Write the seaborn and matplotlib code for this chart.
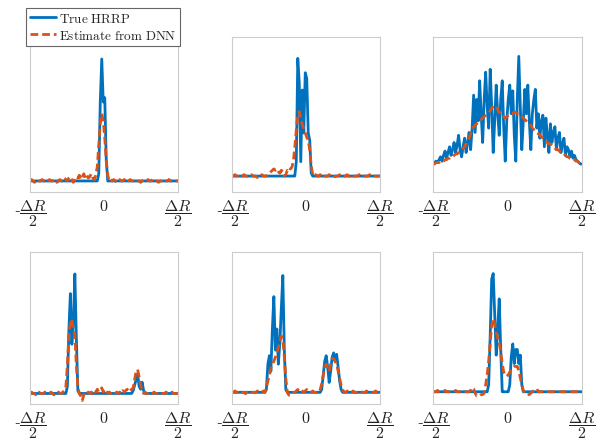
import numpy as np
import pandas as pd
import matplotlib
matplotlib.use("Agg")
import matplotlib.pyplot as plt
import seaborn as sns

# Range profiles on 100 range bins (normalised amplitude), six targets
true_1 = [0, 0, 0, 0, 0, 0, 0, 0, 0, 0,
          0, 0, 0, 0, 0, 0, 0, 0, 0, 0,
          0, 0, 0, 0, 0, 0, 0, 0, 0, 0,
          0, 0, 0, 0, 0, 0, 0, 0, 0, 0,
          0, 0, 0, 0, 0, 0, 0.05, 0.55, 0.85, 0.55,
          0.58, 0.15, 0, 0, 0, 0, 0, 0, 0, 0,
          0, 0, 0, 0, 0, 0, 0, 0, 0, 0,
          0, 0, 0, 0, 0, 0, 0, 0, 0, 0,
          0, 0, 0, 0, 0, 0, 0, 0, 0, 0,
          0, 0, 0, 0, 0, 0, 0, 0, 0, 0]
est_1 = [0.00, 0.01, 0.00, -0.01, 0.00, 0.01, 0.00, 0.00, 0.01, 0.00,
         0.00, -0.01, 0.00, 0.01, 0.00, 0.00, 0.01, 0.00, -0.01, 0.00,
         0.01, 0.00, 0.00, 0.02, 0.01, 0.00, 0.02, 0.03, 0.01, -0.01,
         0.01, 0.03, 0.02, 0.04, 0.01, 0.03, 0.05, 0.02, 0.04, 0.02,
         0.03, 0.05, 0.02, 0.01, 0.04, 0.10, 0.25, 0.40, 0.47, 0.42,
         0.30, 0.14, 0.04, 0.00, 0.01, 0.00, 0.01, 0.00, -0.01, 0.00,
         0.01, 0.00, 0.00, 0.01, 0.00, -0.01, 0.00, 0.01, 0.00, 0.00,
         0.00, 0.01, 0.00, 0.00, -0.01, 0.00, 0.01, 0.00, 0.00, 0.01,
         0.00, 0.00, 0.01, 0.00, 0.00, 0.00, -0.01, 0.00, 0.00, 0.01,
         0.00, 0.00, 0.00, 0.01, 0.00, 0.00, 0.00, 0.00, 0.00, 0.00]

true_2 = [0, 0, 0, 0, 0, 0, 0, 0, 0, 0,
          0, 0, 0, 0, 0, 0, 0, 0, 0, 0,
          0, 0, 0, 0, 0, 0, 0, 0, 0, 0,
          0, 0, 0, 0, 0, 0, 0, 0, 0, 0,
          0, 0, 0, 0.10, 0.82, 0.65, 0.10, 0.60, 0.30, 0.72,
          0.68, 0.30, 0.25, 0.02, 0, 0, 0, 0, 0, 0,
          0, 0, 0, 0, 0, 0, 0, 0, 0, 0,
          0, 0, 0, 0, 0, 0, 0, 0, 0, 0,
          0, 0, 0, 0, 0, 0, 0, 0, 0, 0,
          0, 0, 0, 0, 0, 0, 0, 0, 0, 0]
est_2 = [0.00, 0.00, 0.01, 0.00, 0.00, -0.01, 0.00, 0.00, 0.01, 0.00,
         0.00, 0.00, 0.00, 0.01, 0.00, 0.00, 0.00, -0.01, 0.00, 0.00,
         0.01, 0.00, 0.00, 0.00, 0.01, 0.02, 0.03, 0.04, 0.05, 0.04,
         0.05, 0.03, 0.02, 0.04, 0.03, 0.00, 0.01, 0.04, 0.03, 0.05,
         0.06, 0.10, 0.20, 0.32, 0.42, 0.45, 0.40, 0.36, 0.33, 0.30,
         0.27, 0.25, 0.18, 0.07, 0.01, 0.00, 0.01, 0.00, 0.00, 0.01,
         0.00, 0.01, 0.00, 0.00, 0.00, 0.01, 0.00, 0.00, -0.01, 0.00,
         0.00, 0.00, 0.01, 0.00, 0.00, 0.00, 0.00, 0.01, 0.00, 0.00,
         0.01, 0.00, 0.00, 0.00, 0.00, 0.01, 0.00, 0.00, 0.00, 0.00,
         0.00, 0.00, 0.01, 0.00, 0.00, 0.00, 0.00, 0.00, 0.00, 0.00]

true_3 = [0.00, 0.01, 0.02, 0.01, 0.03, 0.05, 0.02, 0.06, 0.09, 0.04,
          0.08, 0.12, 0.06, 0.10, 0.15, 0.08, 0.13, 0.20, 0.10, 0.05,
          0.12, 0.18, 0.08, 0.15, 0.22, 0.10, 0.25, 0.48, 0.22, 0.45,
          0.30, 0.58, 0.35, 0.15, 0.45, 0.64, 0.40, 0.25, 0.66, 0.40,
          0.08, 0.30, 0.55, 0.35, 0.20, 0.45, 0.58, 0.25, 0.02, 0.30,
          0.45, 0.55, 0.35, 0.51, 0.20, 0.02, 0.45, 0.75, 0.40, 0.10,
          0.30, 0.52, 0.35, 0.55, 0.30, 0.10, 0.35, 0.45, 0.52, 0.25,
          0.35, 0.18, 0.30, 0.34, 0.12, 0.32, 0.20, 0.08, 0.28, 0.15,
          0.22, 0.26, 0.10, 0.18, 0.22, 0.08, 0.14, 0.18, 0.06, 0.12,
          0.10, 0.05, 0.09, 0.04, 0.06, 0.03, 0.02, 0.01, 0.00, 0.00]
est_3 = [0.00, 0.00, 0.01, 0.01, 0.01, 0.02, 0.02, 0.02, 0.03, 0.03,
         0.04, 0.04, 0.05, 0.05, 0.06, 0.07, 0.07, 0.08, 0.09, 0.10,
         0.11, 0.12, 0.14, 0.16, 0.18, 0.21, 0.24, 0.26, 0.27, 0.28,
         0.29, 0.30, 0.31, 0.32, 0.33, 0.34, 0.35, 0.36, 0.37, 0.39,
         0.40, 0.41, 0.40, 0.38, 0.36, 0.34, 0.33, 0.33, 0.32, 0.33,
         0.34, 0.35, 0.35, 0.35, 0.36, 0.36, 0.35, 0.35, 0.34, 0.33,
         0.32, 0.31, 0.30, 0.29, 0.28, 0.27, 0.25, 0.24, 0.23, 0.22,
         0.21, 0.20, 0.19, 0.18, 0.17, 0.16, 0.15, 0.14, 0.14, 0.13,
         0.12, 0.11, 0.10, 0.10, 0.09, 0.08, 0.08, 0.07, 0.06, 0.05,
         0.05, 0.04, 0.04, 0.03, 0.03, 0.02, 0.02, 0.01, 0.01, 0.00]

true_4 = [0, 0, 0, 0, 0, 0, 0, 0, 0, 0,
          0, 0, 0, 0, 0, 0, 0, 0, 0, 0,
          0, 0, 0, 0, 0, 0.05, 0.45, 0.71, 0.35, 0.50,
          0.85, 0.40, 0.02, 0, 0, 0, 0, 0, 0, 0,
          0, 0, 0, 0, 0, 0, 0, 0, 0, 0,
          0, 0, 0, 0, 0, 0, 0, 0, 0, 0,
          0, 0, 0, 0, 0, 0, 0, 0, 0, 0.02,
          0.06, 0.10, 0.14, 0.05, 0.03, 0.08, 0.02, 0, 0, 0,
          0, 0, 0, 0, 0, 0, 0, 0, 0, 0,
          0, 0, 0, 0, 0, 0, 0, 0, 0, 0]
est_4 = [0.00, 0.01, 0.00, 0.00, -0.01, 0.00, 0.01, 0.00, 0.00, 0.00,
         0.01, 0.00, 0.00, 0.00, 0.01, 0.00, -0.01, 0.00, 0.00, 0.01,
         0.00, 0.00, 0.01, 0.02, 0.05, 0.20, 0.42, 0.50, 0.53, 0.45,
         0.42, 0.20, 0.05, 0.00, -0.02, -0.05, -0.01, 0.01, 0.00, 0.01,
         0.00, 0.01, 0.00, 0.02, 0.01, 0.03, 0.01, 0.02, 0.04, 0.01,
         0.03, 0.02, 0.00, 0.01, 0.00, 0.01, 0.00, 0.00, 0.01, 0.00,
         0.01, 0.00, 0.02, 0.01, 0.02, 0.03, 0.01, 0.02, 0.03, 0.04,
         0.10, 0.16, 0.17, 0.12, 0.06, 0.02, 0.00, 0.01, 0.00, 0.00,
         0.01, 0.00, 0.00, 0.01, 0.00, 0.00, 0.00, 0.01, 0.00, 0.00,
         0.00, 0.01, 0.00, 0.00, 0.00, 0.01, 0.00, 0.00, 0.00, 0.00]

true_5 = [0, 0, 0, 0, 0, 0, 0, 0, 0, 0,
          0, 0, 0, 0, 0, 0, 0, 0, 0, 0,
          0, 0, 0, 0.02, 0.20, 0.26, 0.15, 0.45, 0.68, 0.30,
          0.45, 0.20, 0.35, 0.60, 0.83, 0.30, 0.02, 0, 0, 0,
          0, 0, 0, 0, 0, 0, 0, 0, 0, 0,
          0, 0, 0, 0, 0, 0, 0, 0, 0, 0,
          0.02, 0.12, 0.22, 0.26, 0.18, 0.07, 0.15, 0.25, 0.28, 0.22,
          0.27, 0.18, 0.08, 0.02, 0, 0, 0, 0, 0, 0,
          0, 0, 0, 0, 0, 0, 0, 0, 0, 0,
          0, 0, 0, 0, 0, 0, 0, 0, 0, 0]
est_5 = [0.00, 0.00, 0.01, 0.00, 0.00, 0.00, 0.01, 0.00, 0.00, -0.01,
         0.00, 0.00, 0.01, 0.00, 0.00, 0.00, 0.00, 0.01, 0.00, 0.00,
         0.00, 0.01, 0.00, 0.03, 0.08, 0.12, 0.17, 0.20, 0.22, 0.25,
         0.28, 0.32, 0.36, 0.40, 0.38, 0.25, 0.10, 0.00, -0.02, -0.02,
         -0.01, 0.00, 0.00, 0.01, 0.02, 0.01, 0.02, 0.01, 0.00, 0.01,
         0.02, 0.01, 0.00, 0.00, 0.01, 0.00, 0.00, 0.00, 0.00, 0.02,
         0.06, 0.12, 0.18, 0.20, 0.17, 0.15, 0.20, 0.24, 0.24, 0.22,
         0.20, 0.15, 0.10, 0.05, 0.02, 0.00, 0.00, 0.01, 0.00, 0.00,
         0.00, 0.01, 0.00, 0.00, 0.00, 0.00, 0.01, 0.00, 0.00, 0.00,
         0.01, 0.00, 0.00, 0.00, 0.00, 0.00, 0.01, 0.00, 0.00, 0.00]

true_6 = [0, 0, 0, 0, 0, 0, 0, 0, 0, 0,
          0, 0, 0, 0, 0, 0, 0, 0, 0, 0,
          0, 0, 0, 0, 0, 0, 0, 0, 0, 0,
          0, 0, 0, 0, 0, 0, 0, 0.05, 0.40, 0.80,
          0.84, 0.55, 0.26, 0.45, 0.66, 0.30, 0.00, 0, 0, 0,
          0, 0.05, 0.25, 0.34, 0.20, 0.30, 0.30, 0.20, 0.26, 0.05,
          0, 0, 0, 0, 0, 0, 0, 0, 0, 0,
          0, 0, 0, 0, 0, 0, 0, 0, 0, 0,
          0, 0, 0, 0, 0, 0, 0, 0, 0, 0,
          0, 0, 0, 0, 0, 0, 0, 0, 0, 0]
est_6 = [0.00, 0.00, 0.00, 0.01, 0.00, 0.00, 0.00, 0.00, 0.01, 0.00,
         0.00, 0.00, 0.00, 0.00, 0.00, 0.01, 0.00, 0.00, 0.00, 0.00,
         0.00, 0.00, 0.00, 0.00, 0.00, 0.01, 0.03, 0.02, -0.01, -0.03,
         -0.03, -0.03, -0.02, -0.02, -0.01, 0.05, 0.12, 0.22, 0.35, 0.47,
         0.52, 0.48, 0.42, 0.38, 0.35, 0.28, 0.20, 0.14, 0.12, 0.11,
         0.12, 0.14, 0.16, 0.17, 0.18, 0.18, 0.18, 0.15, 0.10, 0.05,
         0.01, -0.01, -0.02, -0.02, -0.02, -0.01, 0.00, 0.01, 0.02, 0.02,
         0.00, 0.00, 0.00, 0.00, 0.00, 0.00, 0.00, 0.00, 0.00, 0.00,
         0.00, 0.00, 0.00, 0.00, 0.00, 0.00, 0.00, 0.00, 0.00, 0.00,
         0.00, 0.00, 0.00, 0.00, 0.00, 0.00, 0.00, 0.00, 0.00, 0.00]

true_profiles = [true_1, true_2, true_3, true_4, true_5, true_6]
est_profiles = [est_1, est_2, est_3, est_4, est_5, est_6]

series_labels = [r"$\mathrm{True\ HRRP}$", r"$\mathrm{Estimate\ from\ DNN}$"]
tick_labels = [r"-$\dfrac{\Delta R}{2}$", r"$0$", r"$\dfrac{\Delta R}{2}$"]

# vertical limits of each panel
y_limits = [(-0.077, 1.003), (-0.111, 0.969), (-0.195, 0.885),
            (-0.075, 1.006), (-0.083, 0.997), (-0.087, 0.993)]

sns.set_theme(style="white")
plt.rcParams["mathtext.fontset"] = "cm"
plt.rcParams["font.family"] = ["DejaVu Serif"]

BLUE = "#0072BD"
ORANGE = "#D95319"

W, H = 602, 439
fig = plt.figure(figsize=(W / 100, H / 100), dpi=100)

# panel boxes in pixels: (left, right) per column, (top, bottom) per row
col_px = [(30, 178), (232, 380), (433, 582)]
row_px = [(38, 193), (253, 405)]

n_bins = len(true_1)
bins = np.arange(n_bins)

handles = []
for k in range(6):
    r, c = divmod(k, 3)
    l, rr = col_px[c]
    t, b = row_px[r]
    ax = fig.add_axes([l / W, 1 - b / H, (rr - l) / W, (b - t) / H])
    df = pd.DataFrame({"bin": bins, "true": true_profiles[k], "est": est_profiles[k]})
    sns.lineplot(data=df, x="bin", y="true", ax=ax, color=BLUE, lw=2.0,
                 label=series_labels[0] if k == 0 else None, legend=False)
    sns.lineplot(data=df, x="bin", y="est", ax=ax, color=ORANGE, lw=2.0,
                 dashes=False, label=series_labels[1] if k == 0 else None, legend=False)
    ax.lines[-1].set_dashes((2.8, 1.4))
    ax.set_xlim(0, n_bins - 1)
    ax.set_ylim(*y_limits[k])
    ax.set_xlabel("")
    ax.set_ylabel("")
    ax.set_yticks([])
    ax.set_xticks([0, (n_bins - 1) / 2, n_bins - 1])
    ax.set_xticklabels(tick_labels, fontsize=11.5)
    ax.tick_params(axis="x", direction="in", length=2.5, width=0.6,
                   color="#999999", pad=3.5, labelcolor="#222222")
    for s in ax.spines.values():
        s.set_visible(True)
        s.set_color("#cccccc")
        s.set_linewidth(0.8)
    if k == 0:
        handles = ax.lines[:2]

leg = fig.legend(handles, series_labels, loc="upper left",
                 bbox_to_anchor=(26 / W, 1 - 9 / H), frameon=True, fancybox=False,
                 fontsize=9.5, handlelength=2.0, handletextpad=0.2,
                 borderpad=0.3, labelspacing=0.3, borderaxespad=0)
leg.get_frame().set_edgecolor("#666666")
leg.get_frame().set_linewidth(0.8)
leg.get_frame().set_facecolor("white")
leg.get_frame().set_alpha(1)

fig.savefig("out.png", dpi=100)
